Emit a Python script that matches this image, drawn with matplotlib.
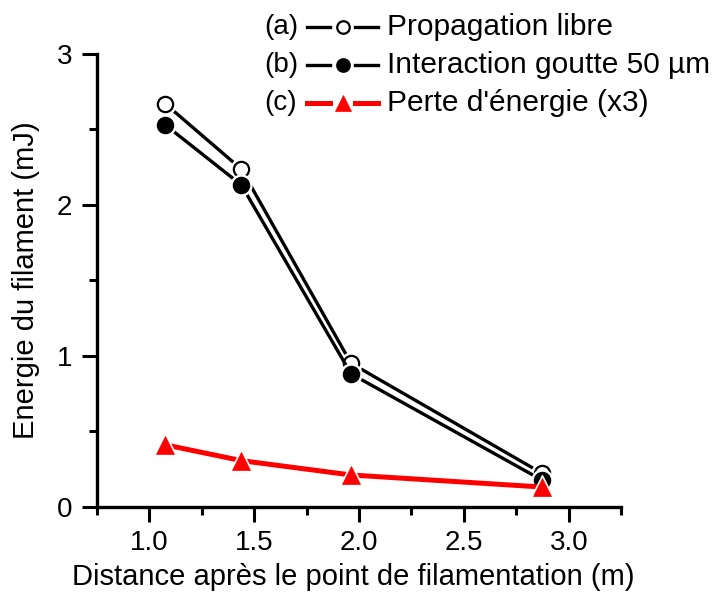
import matplotlib
matplotlib.use('Agg')
import matplotlib.pyplot as plt
from matplotlib.ticker import MultipleLocator

plt.rcParams['font.family'] = ['Liberation Sans', 'DejaVu Sans']
plt.rcParams['font.size'] = 20

# donnees
distance = [1.076, 1.44, 1.962, 2.873]
propagation_libre = [2.67, 2.235, 0.95, 0.22]
interaction_goutte = [2.53, 2.13, 0.88, 0.175]
perte_energie = [0.41, 0.305, 0.21, 0.13]

labels = ['Propagation libre', 'Interaction goutte 50 \u00b5m', "Perte d'\u00e9nergie (x3)"]
tags = ['(a)', '(b)', '(c)']

fig = plt.figure(figsize=(7.14, 5.94), dpi=100)
ax = fig.add_axes([0.1352, 0.147, 0.7352, 0.7626])

styles = [
    dict(color='black', lw=2.4, marker='o', ms=11, mfc='white', mec='black', mew=1.6),
    dict(color='black', lw=2.4, marker='o', ms=11, mfc='black', mec='black', mew=1.6),
    dict(color='red', lw=3.6, marker='^', ms=13, mfc='red', mec='red', mew=0.5),
]
series = [propagation_libre, interaction_goutte, perte_energie]

for i, (y, st) in enumerate(zip(series, styles)):
    z = 2 + 3 * i
    ax.plot(distance, y, '-', color=st['color'], lw=st['lw'], zorder=z, clip_on=False)
    # halo blanc autour des symboles (style Origin)
    ax.plot(distance, y, ls='none', marker=st['marker'], ms=st['ms'] + 4,
            mfc='white', mec='white', zorder=z + 1, clip_on=False)
    ax.plot(distance, y, ls='none', marker=st['marker'], ms=st['ms'],
            mfc=st['mfc'], mec=st['mec'], mew=st['mew'], zorder=z + 2, clip_on=False)

ax.set_xlim(0.75, 3.25)
ax.set_ylim(0, 3)
ax.xaxis.set_minor_locator(MultipleLocator(0.25))
ax.yaxis.set_major_locator(MultipleLocator(1))
ax.yaxis.set_minor_locator(MultipleLocator(0.5))
ax.set_xticks([1.0, 1.5, 2.0, 2.5, 3.0])
ax.set_xticklabels(['1.0', '1.5', '2.0', '2.5', '3.0'])

for s in ['top', 'right']:
    ax.spines[s].set_visible(False)
for s in ['left', 'bottom']:
    ax.spines[s].set_linewidth(2.4)
ax.tick_params(which='major', direction='out', length=10.5, width=2.2)
ax.tick_params(axis='y', which='major', pad=7)
ax.tick_params(axis='x', which='major', pad=6)
ax.tick_params(which='minor', direction='out', length=6, width=2.2)

ax.set_xlabel('Distance apr\u00e8s le point de filamentation (m)', fontsize=21)
ax.xaxis.set_label_coords(0.49, -0.124)
ax.set_ylabel('Energie du filament (mJ)', fontsize=21, labelpad=12)

# legende faite a la main
rows_y = [1.0596, 0.975, 0.8905]
for i, st in enumerate(styles):
    yy = rows_y[i]
    ax.text(0.319, yy, tags[i], transform=ax.transAxes, va='center', ha='left')
    ax.plot([0.400, 0.444], [yy, yy], color=st['color'], lw=st['lw'], transform=ax.transAxes, clip_on=False)
    ax.plot([0.493, 0.5356], [yy, yy], color=st['color'], lw=st['lw'], transform=ax.transAxes, clip_on=False)
    ax.plot([0.469], [yy], ls='none', marker=st['marker'], ms=st['ms'] - 2,
            mfc=st['mfc'], mec=st['mec'], mew=st['mew'], transform=ax.transAxes, clip_on=False)
    ax.text(0.5528, yy, labels[i], transform=ax.transAxes, va='center', ha='left', fontsize=21.5)

fig.savefig('out.png', dpi=100)
